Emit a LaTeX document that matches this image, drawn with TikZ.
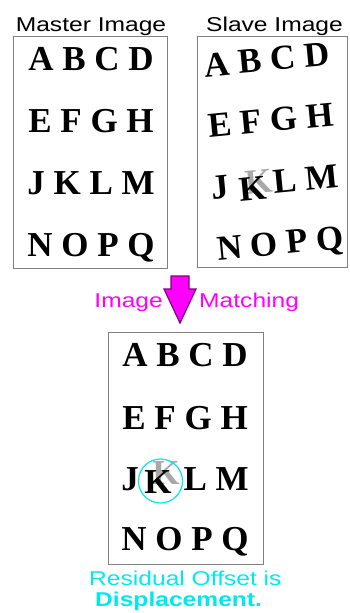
\documentclass[tikz,border=0pt]{standalone}
\usepackage{fontspec}
\newfontfamily\labfont[FakeStretch=1.23]{Liberation Sans}
\newfontfamily\letfont{Liberation Serif}
\definecolor{boxgray}{HTML}{808080}
\definecolor{mag}{HTML}{FF00FF}
\definecolor{magdark}{HTML}{800080}
\definecolor{cyn}{HTML}{00E8F0}
\definecolor{ghost}{HTML}{A8A8A8}
\begin{document}
\begin{tikzpicture}[x=1pt,y=-1pt,
  frame/.style={draw=boxgray,line width=0.9pt},
  title/.style={inner sep=0pt,anchor=base,font=\labfont\fontsize{20}{24}\selectfont},
  row/.style={inner sep=0pt,anchor=base,font=\letfont\bfseries\fontsize{35}{35}\selectfont},
  ghostk/.style={row,text=ghost},
  note/.style={inner sep=0pt,anchor=base west,text=cyn,font=\labfont\fontsize{20}{24}\selectfont}]
\useasboundingbox (0,0) rectangle (349,613);
% frames
\draw[frame] (13,36) rectangle (167,268);
\draw[frame] (197,36) rectangle (347,267);
\draw[frame] (108,332) rectangle (263,564);
% titles
\node[title] (tm) at (91,31.7) {Master Image};
\node[title] (ts) at (274.5,31.7) {Slave Image};
% master rows
\node[row] (m1) at (91,70.5) {A B C D};
\node[row] (m2) at (91,132.5) {E F G H};
\node[row] (m3) at (91,194) {J K L M};
\node[row] (m4) at (91,256) {N O P Q};
% slave rows
\node[row,rotate=5.5] (s1) at (268,71) {A B C D};
\node[row,rotate=5.5] (s2) at (272,131.5) {E F G H};
\node[row,rotate=5.5] (s3) at (276,193.5) {J \phantom{K} L M};
\node[ghostk,rotate=5.5] (s3g) at (260,193.5) {K};
\node[row,rotate=5.5] (s3k) at (254,200.5) {K};
\node[row,rotate=5.5] (s4) at (281.5,254.5) {N O P Q};
% arrow
\draw[fill=mag,draw=magdark,line width=1.2pt,line join=miter]
  (171,276) -- (189,276) -- (189,289) -- (196,289) -- (180,323) -- (164,289) -- (171,289) -- cycle;
\node[title,anchor=base east,text=mag] (im) at (163,307) {Image};
\node[title,anchor=base west,text=mag] (ma) at (199,307) {Matching};
% result rows
\node[row] (r1) at (185,366.5) {A B C D};
\node[row] (r2) at (185,429.5) {E F G H};
\node[row] (r3) at (185,490) {J \phantom{K} L M};
\node[ghostk] (r3g) at (166,484.6) {K};
\node[row] (r3k) at (158,493.6) {K};
\node[row] (r4) at (185,550.5) {N O P Q};
\draw[cyn,line width=1.2pt] (160.5,481) circle[radius=22];
% notes
\node[note] (n1) at (89,585) {Residual Offset is};
\node[note,font=\labfont\bfseries\fontsize{20}{24}\selectfont] (n2) at (95,606.5) {Displacement.};
\end{tikzpicture}
\end{document}
